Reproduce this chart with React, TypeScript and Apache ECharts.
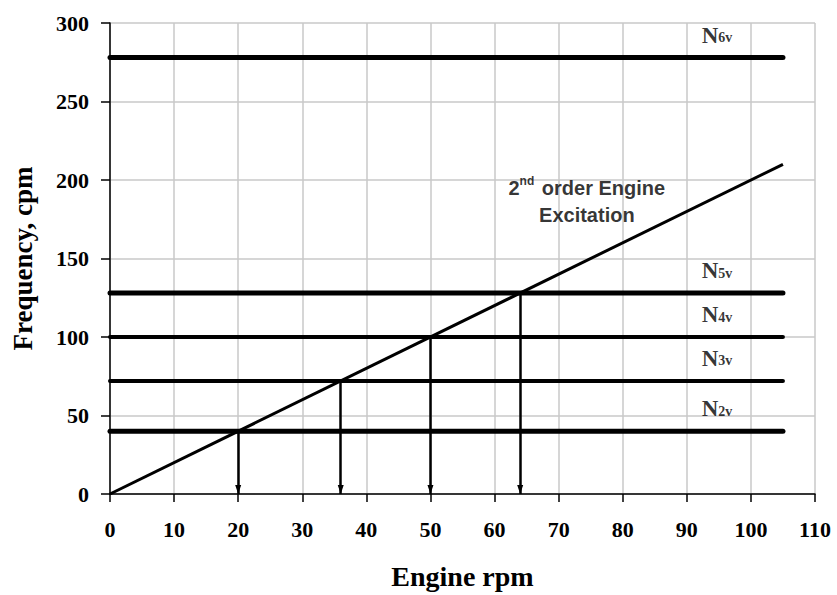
import React, { useEffect, useRef } from "react";
import * as echarts from "echarts";

// ---- data ----
const xTicks = [0, 10, 20, 30, 40, 50, 60, 70, 80, 90, 100, 110];
const yTicks = [0, 50, 100, 150, 200, 250, 300];
const modeNames = ["N2", "N3", "N4", "N5", "N6"];
const modeSub = ["2v", "3v", "4v", "5v", "6v"];
const modeFreq = [40, 72, 100, 128, 278];
const modeWidth = [5, 4, 4, 5, 5];
const modeLineStart = 0;
const modeLineEnd = 105;
const excitationRpm = [0, 105];
const excitationFreq = [0, 210];
const crossingRpm = [20, 36, 50, 64];
const crossingFreq = [40, 72, 100, 128];
const modeLabelRpm = 94.7;
const annotationPos = [74.4, 186];

const SERIF = "'Liberation Serif', 'Times New Roman', serif";
const SANS = "'Liberation Sans', Arial, sans-serif";

export default function App() {
  const ref = useRef<HTMLDivElement>(null);
  useEffect(() => {
    if (!ref.current) return;
    const chart = echarts.init(ref.current, undefined, { renderer: "svg" });

    const modeSeries = modeFreq.map((f, i) => ({
      type: "line",
      name: modeNames[i],
      data: [
        [modeLineStart, f],
        [modeLineEnd, f],
      ],
      symbol: "none",
      lineStyle: { color: "#000", width: modeWidth[i], cap: "round" },
      z: 3,
      silent: true,
    }));

    const arrowSeries = {
      type: "line",
      data: [],
      markLine: {
        silent: true,
        symbol: ["none", "triangle"],
        symbolSize: [6, 9],
        symbolOffset: [[0, 0], [0, 4.5]],
        label: { show: false },
        lineStyle: { color: "#000", width: 2.5, type: "solid" },
        data: crossingRpm.map((r, i) => [
          { coord: [r, crossingFreq[i]] },
          { coord: [r, 0] },
        ]),
      },
      z: 4,
    };

    const option = {
      animation: false,
      backgroundColor: "#fff",
      grid: { left: 110, right: 22, top: 23, bottom: 95 },
      xAxis: {
        type: "value",
        min: xTicks[0],
        max: xTicks[xTicks.length - 1],
        interval: 10,
        name: "Engine rpm",
        nameLocation: "middle",
        nameGap: 68,
        nameTextStyle: { fontFamily: SERIF, fontWeight: "bold", fontSize: 28, color: "#000" },
        axisLine: { lineStyle: { color: "#000", width: 1.5 } },
        axisTick: { show: true, length: 8, lineStyle: { color: "#000", width: 1.5 } },
        axisLabel: { margin: 24, fontFamily: SERIF, fontWeight: "bold", fontSize: 22, color: "#000" },
        splitLine: { show: true, lineStyle: { color: "#c8c8c8", width: 1.5 } },
      },
      yAxis: {
        type: "value",
        min: yTicks[0],
        max: yTicks[yTicks.length - 1],
        interval: 50,
        name: "Frequency, cpm",
        nameLocation: "middle",
        nameGap: 74,
        nameTextStyle: { fontFamily: SERIF, fontWeight: "bold", fontSize: 27, color: "#000" },
        axisLine: { show: true, lineStyle: { color: "#000", width: 1.5 } },
        axisTick: { show: true, length: 9, lineStyle: { color: "#000", width: 1.5 } },
        axisLabel: { margin: 21, fontFamily: SERIF, fontWeight: "bold", fontSize: 22, color: "#000" },
        splitLine: { show: true, lineStyle: { color: "#c8c8c8", width: 1.5 } },
      },
      series: [
        ...modeSeries,
        {
          type: "line",
          data: excitationRpm.map((r, i) => [r, excitationFreq[i]]),
          symbol: "none",
          lineStyle: { color: "#000", width: 3 },
          z: 3,
          silent: true,
        },
        arrowSeries,
        {
          type: "scatter",
          silent: true,
          symbolSize: 0,
          data: modeFreq.map((f) => [modeLabelRpm, f]),
          label: {
            show: true,
            position: "top",
            distance: 11,
            formatter: (p: any) => `{n|N}{s|${modeSub[p.dataIndex]}}`,
            rich: {
              n: { fontFamily: SERIF, fontWeight: "bold", fontSize: 23, color: "#000" },
              s: { fontFamily: SERIF, fontWeight: "bold", fontSize: 14, color: "#000", verticalAlign: "bottom", padding: [0, 0, 2, 0] },
            },
          },
          z: 5,
        },
        {
          type: "scatter",
          silent: true,
          symbolSize: 0,
          data: [annotationPos],
          label: {
            show: true,
            position: "inside",
            align: "center",
            formatter: "{a|2}{sup|nd}{a| order Engine}\n{a|Excitation}",
            rich: {
              a: { fontFamily: SANS, fontWeight: "bold", fontSize: 20, color: "#000", lineHeight: 27 },
              sup: { fontFamily: SANS, fontWeight: "bold", fontSize: 12, color: "#000", verticalAlign: "top", lineHeight: 27, padding: [0, 2, 0, 0] },
            },
          },
          z: 5,
        },
      ],
    };
    chart.setOption(option as any);
    return () => chart.dispose();
  }, []);
  return (
    <div
      ref={ref}
      style={{ position: "fixed", left: 0, top: 0, width: 837, height: 595, background: "#fff" }}
    />
  );
}
